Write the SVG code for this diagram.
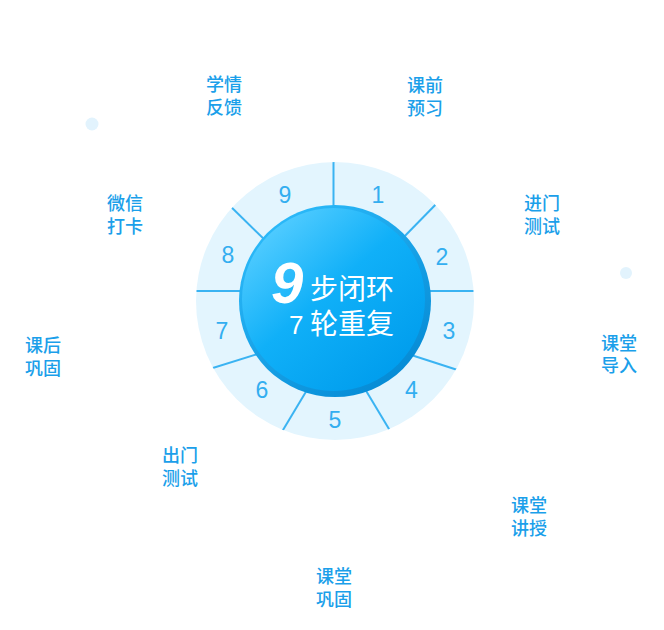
<svg xmlns="http://www.w3.org/2000/svg" width="664" height="630" viewBox="0 0 664 630">
<style>
.lbl{font-family:"Noto Sans CJK SC","Noto Sans",sans-serif;font-size:18px;font-weight:500;fill:#1b9fea}
.num{font-family:"Liberation Sans","Noto Sans",sans-serif;font-size:23px;fill:#33aef0;text-anchor:middle}
.seg{stroke:#3ab3f2;stroke-width:2;fill:none}
.ctr{font-family:"Noto Sans CJK SC","Noto Sans",sans-serif;fill:#ffffff}
.dot{fill:#e2f3fd}
</style>
<defs>
<clipPath id="ringClip"><circle cx="335" cy="301" r="139"/></clipPath>
<linearGradient id="core" x1="0.15" y1="0.1" x2="0.85" y2="0.9">
<stop offset="0" stop-color="#52ccff"/>
<stop offset="0.45" stop-color="#10b0f8"/>
<stop offset="1" stop-color="#009ded"/>
</linearGradient>
<linearGradient id="rim" x1="0.2" y1="0.1" x2="0.8" y2="0.9">
<stop offset="0" stop-color="#2ab8f8"/>
<stop offset="1" stop-color="#068cd6"/>
</linearGradient>
</defs>
<rect width="664" height="630" fill="#ffffff"/>
<circle class="dot" cx="92" cy="124" r="6.5"/>
<circle class="dot" cx="626" cy="273" r="6"/>
<g id="ring">
<circle cx="335" cy="301" r="139" fill="#e3f5fe"/>
</g>
<g id="connectors" clip-path="url(#ringClip)">
<line class="seg" x1="333.5" y1="150" x2="333.5" y2="230"/>
<line class="seg" x1="398" y1="243" x2="445" y2="195"/>
<line class="seg" x1="420" y1="291" x2="480" y2="291"/>
<line class="seg" x1="405" y1="353" x2="470" y2="374"/>
<line class="seg" x1="362" y1="384" x2="395" y2="439"/>
<line class="seg" x1="310" y1="385" x2="277" y2="440"/>
<line class="seg" x1="264" y1="352" x2="200" y2="372"/>
<line class="seg" x1="190" y1="291" x2="250" y2="291"/>
<line class="seg" x1="269" y1="244" x2="222" y2="198"/>
</g>
<g id="core-circle">
<circle cx="335" cy="301" r="96" fill="url(#rim)"/>
<circle cx="333.5" cy="299.5" r="91.5" fill="url(#core)"/>
<text class="ctr" font-size="28"><tspan x="271" y="303" font-family="Liberation Sans, sans-serif" font-size="58" font-weight="bold" font-style="italic">9</tspan><tspan x="310" y="299">步闭环</tspan><tspan x="289" y="334" font-family="Liberation Sans, sans-serif" font-size="26">7 </tspan><tspan x="310" y="334">轮重复</tspan></text>
</g>
<g id="numbers">
<text class="num" x="378" y="202.5">1</text>
<text class="num" x="442" y="265">2</text>
<text class="num" x="449" y="339">3</text>
<text class="num" x="411.5" y="398">4</text>
<text class="num" x="335" y="428">5</text>
<text class="num" x="262" y="398">6</text>
<text class="num" x="222" y="338.5">7</text>
<text class="num" x="228" y="262.5">8</text>
<text class="num" x="285" y="203">9</text>
</g>
<g id="n-xueqing"><text class="lbl"><tspan x="206" y="91">学情</tspan><tspan x="206" y="114">反馈</tspan></text></g>
<g id="n-kqyx"><text class="lbl"><tspan x="407" y="92">课前</tspan><tspan x="407" y="115">预习</tspan></text></g>
<g id="n-jmcs"><text class="lbl"><tspan x="524" y="210">进门</tspan><tspan x="524" y="233">测试</tspan></text></g>
<g id="n-ktdr"><text class="lbl"><tspan x="601" y="350">课堂</tspan><tspan x="601" y="372">导入</tspan></text></g>
<g id="n-ktjs"><text class="lbl"><tspan x="511" y="512">课堂</tspan><tspan x="511" y="535">讲授</tspan></text></g>
<g id="n-ktgg"><text class="lbl"><tspan x="316" y="583">课堂</tspan><tspan x="316" y="606">巩固</tspan></text></g>
<g id="n-cmcs"><text class="lbl"><tspan x="162" y="462">出门</tspan><tspan x="162" y="485">测试</tspan></text></g>
<g id="n-khgg"><text class="lbl"><tspan x="25" y="352">课后</tspan><tspan x="25" y="375">巩固</tspan></text></g>
<g id="n-wxdk"><text class="lbl"><tspan x="107" y="210">微信</tspan><tspan x="107" y="233">打卡</tspan></text></g>
</svg>
